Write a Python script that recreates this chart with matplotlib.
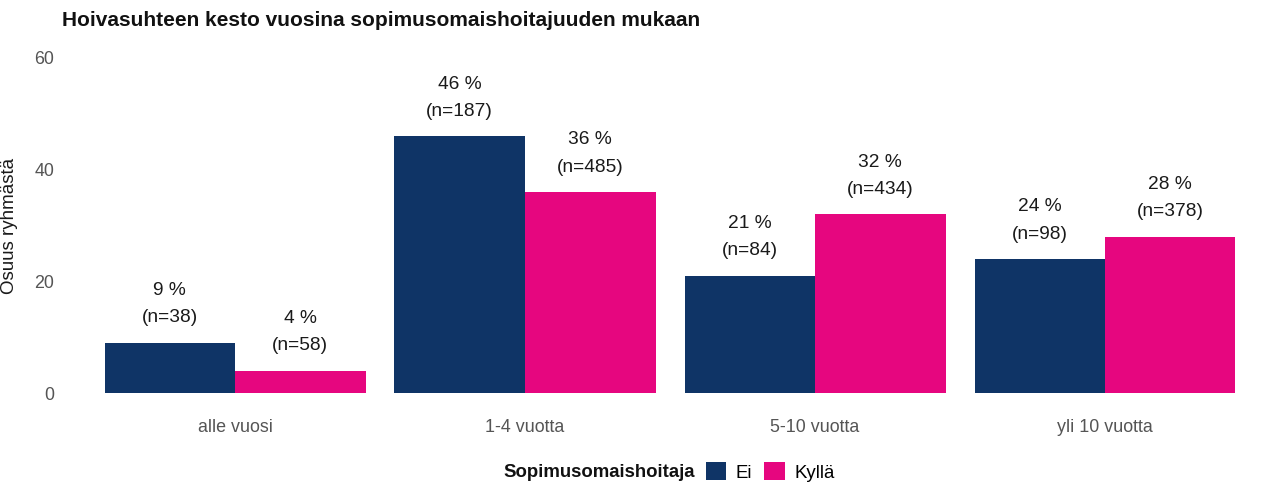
import matplotlib
matplotlib.use("Agg")
import matplotlib.pyplot as plt
from matplotlib.patches import Patch
import numpy as np

plt.rcParams['font.family'] = ['Liberation Sans', 'DejaVu Sans']

categories = ["alle vuosi", "1-4 vuotta", "5-10 vuotta", "yli 10 vuotta"]
series_names = ["Ei", "Kyllä"]
ei_pct = [9, 46, 21, 24]
ei_n = [38, 187, 84, 98]
kylla_pct = [4, 36, 32, 28]
kylla_n = [58, 485, 434, 378]
colors = ["#0f3466", "#e6067f"]

W, H = 1271, 486
fig = plt.figure(figsize=(W / 100, H / 100), dpi=100)
ax_left = 61 / W
ax_right = 1271 / W
ax_bottom = (H - 409.75) / H
ax_height = 368.5 / H
ax = fig.add_axes([ax_left, ax_bottom, ax_right - ax_left, ax_height])

x = np.arange(1, len(categories) + 1)
bw = 0.45
for vals, ns, c, off in [(ei_pct, ei_n, colors[0], -bw / 2), (kylla_pct, kylla_n, colors[1], bw / 2)]:
    ax.bar(x + off, vals, width=bw, color=c, linewidth=0, zorder=2)
    for xi, v, n in zip(x + off, vals, ns):
        ax.annotate(f"(n={n})", (xi, v), xytext=(0, 18), textcoords="offset points",
                    ha="center", va="center", fontsize=13.8, color="#1a1a1a")
        ax.annotate(f"{v} %", (xi, v), xytext=(0, 37.5), textcoords="offset points",
                    ha="center", va="center", fontsize=13.8, color="#1a1a1a")

ax.set_xlim(0.4, 0.4 + (1271 - 61) / 290)
ax.set_ylim(-3, 63)
ax.set_yticks([0, 20, 40, 60])
ax.set_xticks(x)
ax.set_xticklabels(categories)
ax.tick_params(axis="both", length=0, labelsize=12.9, colors="#555555")
ax.tick_params(axis="x", pad=7)
ax.tick_params(axis="y", pad=5)
for s in ax.spines.values():
    s.set_visible(False)
ax.set_ylabel("Osuus ryhmästä", fontsize=13.5, color="#1a1a1a")
ax.yaxis.set_label_coords((18 - 61) / 1210, (409.75 - 226) / 368.5)

fig.text(62 / W, 1 - 20 / H, "Hoivasuhteen kesto vuosina sopimusomaishoitajuuden mukaan",
         fontsize=15, fontweight="bold", ha="left", va="center", color="#111111")

fig.text(695 / W, 1 - 472 / H, "Sopimusomaishoitaja", fontsize=13.4, fontweight="bold",
         ha="right", va="center", color="#111111")
handles = [Patch(facecolor=colors[0]), Patch(facecolor=colors[1])]
fig.legend(handles, series_names, loc="center left", bbox_to_anchor=(706 / W, 1 - 472 / H),
           ncol=2, frameon=False, fontsize=13.4, handlelength=1.1, handleheight=1.1,
           handletextpad=0.5, columnspacing=0.65, borderpad=0, borderaxespad=0)

fig.savefig("out.png", dpi=100, facecolor="white")
